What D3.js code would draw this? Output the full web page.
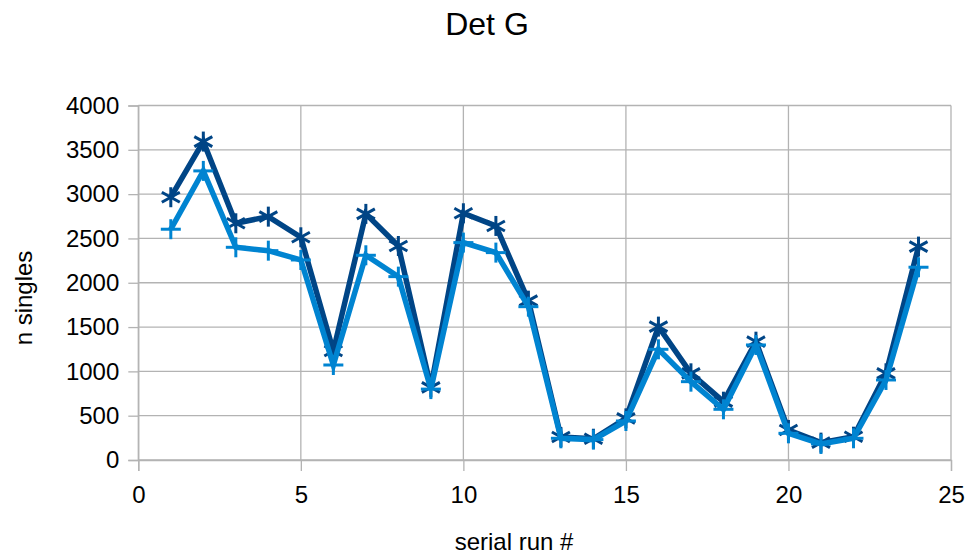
<!DOCTYPE html>
<html><head><meta charset="utf-8">
<script src="https://cdn.jsdelivr.net/npm/d3@7"></script>
<style>body{margin:0;background:#fff}svg{font-family:"Liberation Sans",Arial,sans-serif}</style>
</head><body>
<svg id="c" width="972" height="557"></svg>
<script>
const runs = [1,2,3,4,5,6,7,8,9,10,11,12,13,14,15,16,17,18,19,20,21,22,23,24];
const seriesA = [2965,3593,2671,2746,2513,1230,2777,2415,820,2784,2641,1798,260,240,470,1505,978,658,1335,339,196,263,978,2408];
const seriesB = [2604,3262,2400,2362,2257,1072,2310,2069,800,2453,2340,1730,245,230,440,1249,884,572,1298,301,181,245,903,2175];
const xTicks = [0,5,10,15,20,25];
const yTicks = [0,500,1000,1500,2000,2500,3000,3500,4000];

const svg = d3.select("#c");
const L=138.3, R=951, T=105.5, B=460;
const x = d3.scaleLinear().domain([0,25]).range([L,R]);
const y = d3.scaleLinear().domain([0,4000]).range([B,T]);
const grid = "#b3b3b3";

svg.append("g").selectAll("line").data(yTicks).join("line")
  .attr("x1",L).attr("x2",R).attr("y1",d=>y(d)).attr("y2",d=>y(d))
  .attr("stroke",grid).attr("stroke-width",1.3);
svg.append("g").selectAll("line").data(xTicks).join("line")
  .attr("y1",T).attr("y2",B).attr("x1",d=>x(d)).attr("x2",d=>x(d))
  .attr("stroke",grid).attr("stroke-width",1.3);

const ya = svg.append("g").attr("transform",`translate(${L},0)`)
  .call(d3.axisLeft(y).tickValues(yTicks).tickSize(10).tickPadding(9).tickFormat(d3.format("d")));
const xa = svg.append("g").attr("transform",`translate(0,${B})`)
  .call(d3.axisBottom(x).tickValues(xTicks).tickSize(11).tickPadding(15).tickFormat(d3.format("d")));
[ya,xa].forEach(a=>{
  a.selectAll("path,line").attr("stroke",grid).attr("stroke-width",1.3);
  a.selectAll("text").attr("font-size",24).attr("fill","#000").attr("font-family","Liberation Sans, Arial, sans-serif");
});

const line = d3.line().x((d,i)=>x(runs[i])).y(d=>y(d));
function drawSeries(vals,color,marker){
  svg.append("path").datum(vals).attr("d",line).attr("fill","none")
    .attr("stroke",color).attr("stroke-width",5.5).attr("stroke-linejoin","miter");
  const g = svg.append("g").attr("stroke",color).attr("stroke-width",3);
  const s = 10;
  vals.forEach((v,i)=>{
    const cx=x(runs[i]), cy=y(v);
    if(marker==="star"){
      g.append("line").attr("x1",cx).attr("x2",cx).attr("y1",cy-s).attr("y2",cy+s);
      g.append("line").attr("x1",cx-s*0.9).attr("x2",cx+s*0.9).attr("y1",cy-s*0.5).attr("y2",cy+s*0.5);
      g.append("line").attr("x1",cx-s*0.9).attr("x2",cx+s*0.9).attr("y1",cy+s*0.5).attr("y2",cy-s*0.5);
    } else {
      g.append("line").attr("x1",cx).attr("x2",cx).attr("y1",cy-s).attr("y2",cy+s);
      g.append("line").attr("x1",cx-s).attr("x2",cx+s).attr("y1",cy).attr("y2",cy);
    }
  });
}
drawSeries(seriesA,"#004586","star");
drawSeries(seriesB,"#0084d1","plus");

svg.append("text").attr("x",487).attr("y",35).attr("text-anchor","middle")
  .attr("font-size",32).text("Det G");
svg.append("text").attr("x",514).attr("y",550).attr("text-anchor","middle")
  .attr("font-size",24).text("serial run #");
svg.append("text").attr("transform","translate(32,298) rotate(-90)").attr("text-anchor","middle")
  .attr("font-size",24).text("n singles");
</script>
</body></html>
